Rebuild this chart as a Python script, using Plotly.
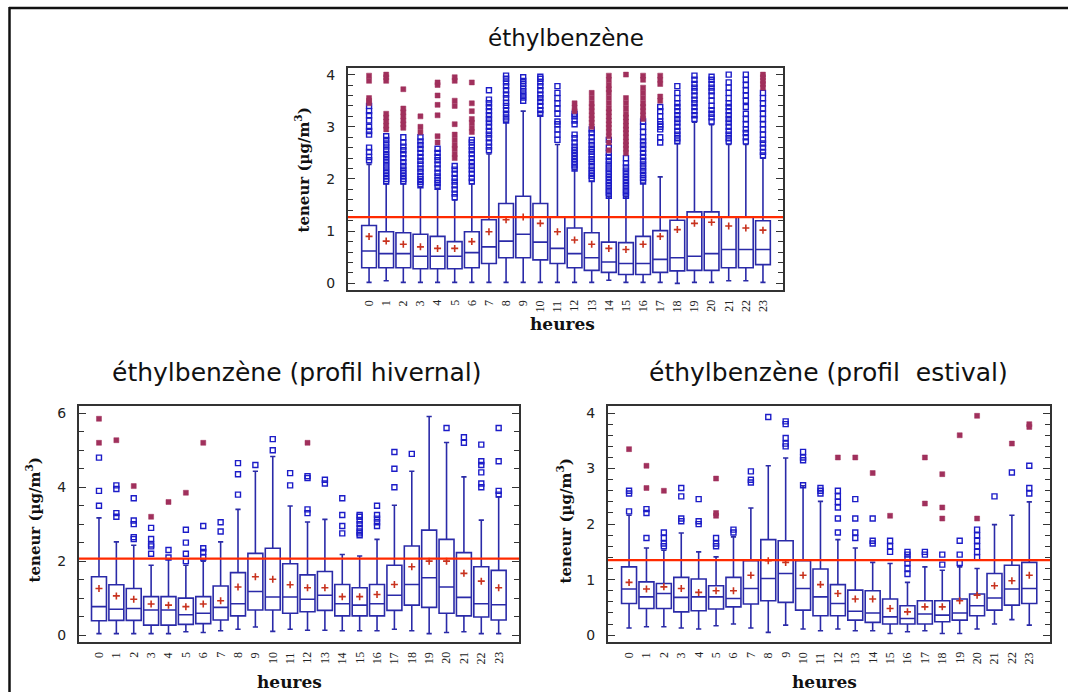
import plotly.graph_objects as go

W, H = 1068, 693

hours = list(range(24))
hour_labels = [str(h) for h in hours]

# ---------------- éthylbenzène, all year ----------------
annual_low = [0.02, 0.05, 0.02, 0.02, 0.02, 0.02, 0.02, 0.02, 0.02, 0.02, 0.02, 0.02,
              0.02, 0.02, 0.06, 0.02, 0.02, 0.02, 0.0, 0.02, 0.02, 0.05, 0.05, 0.02]
annual_q1 = [0.30, 0.30, 0.30, 0.28, 0.28, 0.28, 0.30, 0.38, 0.49, 0.49, 0.45, 0.38,
             0.30, 0.25, 0.21, 0.17, 0.17, 0.21, 0.24, 0.25, 0.25, 0.30, 0.30, 0.36]
annual_median = [0.62, 0.57, 0.57, 0.52, 0.52, 0.52, 0.59, 0.70, 0.81, 0.94, 0.79, 0.67,
                 0.57, 0.49, 0.41, 0.38, 0.38, 0.46, 0.49, 0.52, 0.57, 0.65, 0.65, 0.65]
annual_q3 = [1.11, 0.99, 0.97, 0.94, 0.90, 0.80, 0.99, 1.22, 1.53, 1.67, 1.53, 1.27,
             1.06, 0.97, 0.79, 0.78, 0.90, 1.01, 1.21, 1.37, 1.37, 1.27, 1.27, 1.20]
annual_high = [2.28, 1.91, 1.91, 1.85, 1.82, 1.60, 1.91, 2.48, 3.09, 3.30, 3.22, 2.66,
               2.18, 1.96, 1.66, 1.66, 1.92, 2.04, 2.68, 3.09, 3.04, 2.66, 2.66, 2.40]
annual_mean = [0.90, 0.81, 0.75, 0.70, 0.67, 0.67, 0.80, 0.99, 1.22, 1.27, 1.15, 0.99,
               0.83, 0.75, 0.67, 0.65, 0.75, 0.90, 1.03, 1.15, 1.17, 1.10, 1.06, 1.02]
annual_outliers = [
    [2.36, 2.42, 2.52, 2.6, 2.85, 2.92, 3.0, 3.12, 3.22, 3.3, 3.4],
    [1.95, 2.0, 2.06, 2.12, 2.18, 2.24, 2.3, 2.36, 2.42, 2.48, 2.55, 2.62, 2.68, 2.75, 2.82],
    [1.95, 2.0, 2.06, 2.12, 2.18, 2.25, 2.32, 2.4, 2.48, 2.55, 2.62, 2.7, 2.8],
    [1.88, 1.94, 2.0, 2.06, 2.14, 2.2, 2.28, 2.35, 2.42, 2.5, 2.58, 2.65, 2.72, 2.8],
    [1.85, 1.92, 1.98, 2.05, 2.12, 2.2, 2.28, 2.36, 2.42, 2.5, 2.58],
    [1.65, 1.72, 1.8, 1.88, 1.95, 2.02, 2.1, 2.18, 2.25],
    [1.95, 2.02, 2.1, 2.18, 2.25, 2.32, 2.4, 2.48, 2.55, 2.62, 2.7, 2.75],
    [2.55, 2.62, 2.7, 2.78, 2.85, 2.92, 3.0, 3.08, 3.15, 3.22, 3.3, 3.38, 3.45, 3.52, 3.7],
    [3.12, 3.18, 3.25, 3.32, 3.4, 3.46, 3.55, 3.62, 3.7, 3.78, 3.85, 3.92, 3.98],
    [3.5, 3.56, 3.62, 3.68, 3.75, 3.82, 3.88, 3.95],
    [3.25, 3.32, 3.4, 3.48, 3.55, 3.62, 3.7, 3.78, 3.85, 3.92, 3.96],
    [2.75, 2.85, 2.95, 3.05, 3.1, 3.25, 3.35, 3.45, 3.55, 3.65, 3.78],
    [2.2, 2.26, 2.32, 2.38, 2.44, 2.5, 2.56, 2.62, 2.7, 2.78, 2.85, 3.05, 3.12, 3.2, 3.25],
    [2.0, 2.06, 2.12, 2.18, 2.25, 2.32, 2.38, 2.45, 2.52, 2.58, 2.65, 2.72, 2.8, 2.88, 2.95],
    [1.68, 1.74, 1.8, 1.86, 1.92, 1.98, 2.04, 2.1, 2.16, 2.22, 2.28, 2.35, 2.42, 2.5, 2.6, 2.75],
    [1.68, 1.74, 1.8, 1.86, 1.92, 1.98, 2.04, 2.1, 2.16, 2.22, 2.3, 2.4],
    [1.95, 2.02, 2.08, 2.15, 2.22, 2.28, 2.35, 2.42, 2.5, 2.58, 2.65, 2.72, 2.8, 2.9, 3.0, 3.1],
    [2.7, 2.8, 2.95, 3.0, 3.05, 3.1, 3.2, 3.3, 3.38],
    [2.72, 2.78, 2.85, 2.92, 3.0, 3.08, 3.15, 3.22, 3.3, 3.38, 3.45, 3.55, 3.65, 3.78],
    [3.15, 3.22, 3.3, 3.38, 3.45, 3.52, 3.6, 3.68, 3.75, 3.82, 3.9, 3.98],
    [3.1, 3.18, 3.25, 3.32, 3.4, 3.5, 3.6, 3.68, 3.75, 3.82, 3.9, 3.96],
    [2.72, 2.78, 2.85, 2.92, 3.0, 3.08, 3.15, 3.22, 3.3, 3.38, 3.45, 3.55, 3.65, 3.75, 3.85, 4.0],
    [2.72, 2.8, 2.88, 2.95, 3.05, 3.15, 3.25, 3.38, 3.5, 3.6, 3.7, 3.8, 3.9, 4.0],
    [2.45, 2.52, 2.6, 2.68, 2.75, 2.85, 2.95, 3.05, 3.15, 3.25, 3.35, 3.45, 3.55, 3.65],
]
annual_extremes = [
    [3.45, 3.5, 3.55, 3.88, 3.98],
    [2.95, 3.02, 3.1, 3.18, 3.25, 3.88, 3.95, 4.0],
    [2.98, 3.05, 3.12, 3.2, 3.28, 3.35, 3.72],
    [2.9, 3.0, 3.2],
    [2.7, 2.82, 3.22, 3.42, 3.6, 3.8, 3.85],
    [2.4, 2.48, 2.58, 2.65, 2.75, 2.85, 3.05, 3.4, 3.5, 3.88, 3.95],
    [2.9, 2.98, 3.08, 3.15, 3.3, 3.45, 3.85],
    [], [], [], [], [],
    [3.3, 3.37, 3.45],
    [3.0, 3.08, 3.15, 3.22, 3.3, 3.38, 3.45, 3.55, 3.65],
    [2.55, 2.7, 2.82, 2.9, 2.98, 3.05, 3.12, 3.2, 3.28, 3.35, 3.45, 3.55, 3.65, 3.72, 3.8, 3.9, 3.98],
    [2.5, 2.58, 2.65, 2.72, 2.8, 2.88, 2.95, 3.02, 3.1, 3.18, 3.25, 3.35, 3.45, 3.55, 4.0],
    [3.15, 3.22, 3.3, 3.38, 3.45, 3.55, 3.65, 3.75, 3.9, 3.98],
    [3.5, 3.58, 3.82, 3.9, 3.98],
    [], [], [], [], [],
    [3.75, 3.82, 3.88, 3.95, 4.0],
]
annual_ref = 1.27

# ---------------- winter profile ----------------
winter_low = [0.04, 0.04, 0.04, 0.04, 0.04, 0.09, 0.07, 0.12, 0.16, 0.22, 0.10, 0.16,
              0.13, 0.13, 0.12, 0.12, 0.12, 0.16, 0.12, 0.04, 0.07, 0.09, 0.04, 0.04]
winter_q1 = [0.39, 0.40, 0.40, 0.27, 0.27, 0.29, 0.31, 0.41, 0.52, 0.68, 0.68, 0.59,
             0.63, 0.67, 0.52, 0.52, 0.52, 0.67, 0.81, 0.75, 0.59, 0.52, 0.49, 0.41]
winter_median = [0.77, 0.70, 0.72, 0.68, 0.68, 0.55, 0.59, 0.75, 0.85, 1.18, 1.03, 1.03,
                 0.97, 1.08, 0.85, 0.81, 0.85, 1.08, 1.37, 1.55, 1.30, 1.02, 0.85, 0.82]
winter_q3 = [1.58, 1.36, 1.26, 1.04, 1.04, 1.00, 1.04, 1.33, 1.69, 2.21, 2.35, 1.93,
             1.63, 1.72, 1.37, 1.28, 1.37, 1.89, 2.41, 2.84, 2.59, 2.23, 1.85, 1.75]
winter_high = [3.17, 2.52, 2.43, 1.89, 2.05, 1.89, 2.00, 2.52, 3.40, 4.43, 4.83, 3.49,
               3.06, 3.13, 2.18, 2.14, 2.59, 3.51, 4.43, 5.91, 5.21, 4.28, 3.11, 3.74]
winter_mean = [1.26, 1.06, 0.97, 0.84, 0.81, 0.77, 0.84, 0.93, 1.30, 1.58, 1.51, 1.36,
               1.28, 1.28, 1.04, 1.04, 1.10, 1.37, 1.85, 2.00, 2.00, 1.67, 1.46, 1.28]
winter_outliers = [
    [3.5, 3.9, 4.8], [3.2, 3.3, 3.95, 4.05], [2.6, 2.65, 3.0, 3.1, 3.7],
    [2.2, 2.4, 2.45, 2.6, 2.9], [2.1, 2.3], [2.0, 2.2, 2.5, 2.85],
    [2.1, 2.25, 2.35, 2.95], [2.8, 3.05], [3.8, 4.35, 4.65], [4.6], [5.0, 5.3],
    [4.05, 4.38], [3.3, 3.4, 4.25, 4.3], [4.1, 4.2], [2.75, 2.95, 3.25, 3.7],
    [2.7, 2.75, 2.8, 2.9, 3.0, 3.1, 3.2, 3.25], [2.95, 3.05, 3.15, 3.25, 3.5],
    [4.0, 4.5, 4.95], [4.9], [], [5.6], [5.2, 5.35],
    [4.0, 4.1, 4.4, 4.6, 4.7, 5.15], [3.8, 3.9, 4.7, 5.6],
]
winter_extremes = [
    [5.2, 5.85], [5.27], [4.03], [3.2], [3.6], [3.85], [5.2], [], [], [], [], [],
    [5.2], [], [], [], [], [], [], [], [], [], [], [],
]
winter_ref = 2.07

# ---------------- summer profile ----------------
summer_low = [0.13, 0.15, 0.15, 0.13, 0.11, 0.17, 0.20, 0.13, 0.05, 0.18, 0.11, 0.08,
              0.11, 0.08, 0.08, 0.03, 0.06, 0.08, 0.03, 0.03, 0.11, 0.20, 0.28, 0.18]
summer_q1 = [0.57, 0.48, 0.48, 0.42, 0.44, 0.47, 0.51, 0.56, 0.62, 0.59, 0.45, 0.35,
             0.35, 0.27, 0.23, 0.20, 0.20, 0.20, 0.24, 0.27, 0.35, 0.45, 0.54, 0.57]
summer_median = [0.83, 0.69, 0.75, 0.68, 0.69, 0.69, 0.66, 0.84, 1.02, 1.11, 0.84, 0.69,
                 0.57, 0.43, 0.40, 0.33, 0.30, 0.38, 0.36, 0.40, 0.53, 0.67, 0.83, 0.84]
summer_q3 = [1.23, 0.96, 0.93, 1.04, 1.01, 0.89, 1.04, 1.34, 1.72, 1.70, 1.34, 1.19,
             0.91, 0.81, 0.80, 0.65, 0.53, 0.62, 0.62, 0.65, 0.74, 1.11, 1.26, 1.31]
summer_high = [2.16, 1.57, 1.53, 1.84, 1.50, 1.41, 1.77, 2.29, 3.05, 3.19, 2.69, 2.41,
               1.72, 1.57, 1.31, 1.29, 0.95, 1.23, 1.17, 1.23, 1.20, 1.99, 2.16, 2.40]
summer_mean = [0.95, 0.83, 0.87, 0.84, 0.77, 0.80, 0.80, 1.08, 1.34, 1.31, 1.08, 0.91,
               0.75, 0.65, 0.65, 0.48, 0.42, 0.51, 0.51, 0.62, 0.72, 0.89, 0.98, 1.08]
summer_outliers = [
    [2.23, 2.55, 2.6], [1.75, 2.2, 2.27], [1.6, 1.65, 1.75, 1.85],
    [2.05, 2.1, 2.5, 2.65], [2.0, 2.05, 2.45], [1.6, 1.65, 1.75], [1.85, 1.9],
    [2.75, 2.8, 2.95], [3.93], [3.4, 3.45, 3.55, 3.8, 3.85], [2.7, 3.15, 3.2, 3.3],
    [2.55, 2.6, 2.65], [1.85, 2.1, 2.3, 2.4, 2.5, 2.6], [1.75, 1.85, 2.1, 2.45],
    [1.65, 1.7, 2.1], [1.5, 1.6, 1.7], [1.1, 1.2, 1.3, 1.38, 1.45, 1.5],
    [1.45, 1.5], [1.27, 1.45], [1.3, 1.45, 1.7],
    [1.4, 1.5, 1.6, 1.7, 1.8, 1.9], [2.5], [2.93], [2.55, 2.65, 3.05],
]
summer_extremes = [
    [3.35], [2.65, 3.05], [2.6], [], [], [2.15, 2.2, 2.82], [], [], [], [], [], [],
    [3.2], [3.2], [2.92], [2.15], [], [2.37, 3.2], [2.1, 2.3, 2.9], [3.6],
    [2.1, 3.95], [], [3.45], [3.75, 3.8],
]
summer_ref = 1.35

BOX_BLUE = "#2a2aa8"
OUT_BLUE = "#1c1cc8"
EXT_RED = "#a0305c"
MEAN_RED = "#c8321e"
REF_RED = "#ff2a00"
FRAME = "#333333"


def px_x(p):
    return p / W


def px_y(p):
    return 1 - p / H


panels = [
    dict(title="éthylbenzène", low=annual_low, q1=annual_q1, med=annual_median,
         q3=annual_q3, high=annual_high, mean=annual_mean, out=annual_outliers,
         ext=annual_extremes, ref=annual_ref,
         dom_x=(348, 783), dom_y=(67, 290), xr=(-1.23, 24.17), yr=(-0.13, 4.13),
         dtick=1, minor=0.2, title_xy=(566, 37), title_size=23,
         ytitle_xy=(302, 170), xtitle_xy=(562, 324)),
    dict(title="éthylbenzène (profil hivernal)", low=winter_low, q1=winter_q1,
         med=winter_median, q3=winter_q3, high=winter_high, mean=winter_mean,
         out=winter_outliers, ext=winter_extremes, ref=winter_ref,
         dom_x=(79, 519), dom_y=(406, 643), xr=(-1.15, 24.17), yr=(-0.19, 6.2),
         dtick=2, minor=0.5, title_xy=(297, 373), title_size=25,
         ytitle_xy=(34, 521), xtitle_xy=(289, 683)),
    dict(title="éthylbenzène (profil  estival)", low=summer_low, q1=summer_q1,
         med=summer_median, q3=summer_q3, high=summer_high, mean=summer_mean,
         out=summer_outliers, ext=summer_extremes, ref=summer_ref,
         dom_x=(608, 1050), dom_y=(406, 643), xr=(-1.21, 24.19), yr=(-0.126, 4.13),
         dtick=1, minor=0.2, title_xy=(828, 373), title_size=25,
         ytitle_xy=(565, 522), xtitle_xy=(824, 683)),
]


def flatten(groups):
    xs, ys = [], []
    for h, vals in zip(hours, groups):
        for v in vals:
            xs.append(h)
            ys.append(v)
    return xs, ys


fig = go.Figure()
annotations = []
shapes = []
axes = {}

for i, p in enumerate(panels):
    sfx = "" if i == 0 else str(i + 1)
    xa, ya = "x" + sfx, "y" + sfx

    fig.add_trace(go.Box(
        x=hours, q1=p["q1"], median=p["med"], q3=p["q3"],
        lowerfence=p["low"], upperfence=p["high"],
        boxpoints=False, width=0.86, whiskerwidth=0.35,
        fillcolor="rgba(255,255,255,0)", line=dict(color=BOX_BLUE, width=1.6),
        xaxis=xa, yaxis=ya, showlegend=False, hoverinfo="skip"))

    ox, oy = flatten(p["out"])
    fig.add_trace(go.Scatter(
        x=ox, y=oy, mode="markers", xaxis=xa, yaxis=ya, showlegend=False,
        marker=dict(symbol="square-open", size=5, color=OUT_BLUE,
                    line=dict(width=1.4, color=OUT_BLUE))))

    ex, ey = flatten(p["ext"])
    fig.add_trace(go.Scatter(
        x=ex, y=ey, mode="markers", xaxis=xa, yaxis=ya, showlegend=False,
        marker=dict(symbol="square", size=5, color=EXT_RED,
                    line=dict(width=0.5, color=EXT_RED))))

    fig.add_trace(go.Scatter(
        x=hours, y=p["mean"], mode="markers", xaxis=xa, yaxis=ya, showlegend=False,
        marker=dict(symbol="cross-thin", size=5, color=MEAN_RED,
                    line=dict(width=1.6, color=MEAN_RED))))

    shapes.append(dict(type="line", xref=xa + " domain", yref=ya,
                       x0=0, x1=1, y0=p["ref"], y1=p["ref"],
                       line=dict(color=REF_RED, width=2.2)))

    dx = [px_x(p["dom_x"][0]), px_x(p["dom_x"][1])]
    dy = [px_y(p["dom_y"][1]), px_y(p["dom_y"][0])]
    axes["xaxis" + sfx] = dict(
        domain=dx, anchor=ya, range=list(p["xr"]),
        tickmode="array", tickvals=hours, showticklabels=False, ticks="",
        showline=True, mirror=True, linecolor=FRAME, linewidth=2,
        showgrid=False, zeroline=False)
    axes["yaxis" + sfx] = dict(
        domain=dy, anchor=xa, range=list(p["yr"]),
        tick0=0, dtick=p["dtick"], ticks="inside", ticklen=7, tickwidth=1.3,
        tickcolor=FRAME, showline=True, mirror="allticks", linecolor=FRAME,
        linewidth=2, showgrid=False, zeroline=False, ticklabelstandoff=8,
        tickfont=dict(family="DejaVu Sans", size=14, color="#222222"),
        minor=dict(dtick=p["minor"], tick0=0, ticks="inside", ticklen=5,
                   tickwidth=1.3, tickcolor=FRAME, showgrid=False))

    # hour labels, written vertically under each box
    label_top = px_y(p["dom_y"][1] + 9)
    for h, lab in zip(hours, hour_labels):
        annotations.append(dict(text=lab, x=h, xref=xa, y=label_top, yref="paper",
                                showarrow=False, textangle=-90,
                                xanchor="center", yanchor="top",
                                borderpad=0,
                                font=dict(family="Liberation Serif", size=12,
                                          color="#222222")))

    tx, ty = p["title_xy"]
    annotations.append(dict(text=p["title"], x=px_x(tx), y=px_y(ty),
                            xref="paper", yref="paper", showarrow=False,
                            xanchor="center", yanchor="middle",
                            font=dict(family="DejaVu Sans", size=p["title_size"],
                                      color="#111111")))
    yx, yy = p["ytitle_xy"]
    annotations.append(dict(text="<b>teneur (µg/m<sup>3</sup>)</b>", x=px_x(yx),
                            y=px_y(yy), xref="paper", yref="paper", showarrow=False,
                            textangle=-90, xanchor="center", yanchor="middle",
                            font=dict(family="DejaVu Serif", size=15, color="#111111")))
    hx, hy = p["xtitle_xy"]
    annotations.append(dict(text="<b>heures</b>", x=px_x(hx), y=px_y(hy),
                            xref="paper", yref="paper", showarrow=False,
                            xanchor="center", yanchor="middle",
                            font=dict(family="DejaVu Serif", size=17, color="#111111")))

# outer frame (top and left edges)
shapes.append(dict(type="line", xref="paper", yref="paper",
                   x0=px_x(9), x1=1.0, y0=px_y(7), y1=px_y(7),
                   line=dict(color="#111111", width=2.5)))
shapes.append(dict(type="line", xref="paper", yref="paper",
                   x0=px_x(9.5), x1=px_x(9.5), y0=px_y(6), y1=0.0,
                   line=dict(color="#111111", width=2.5)))

fig.update_layout(
    width=W, height=H, margin=dict(l=0, r=0, t=0, b=0),
    paper_bgcolor="white", plot_bgcolor="white",
    showlegend=False, annotations=annotations, shapes=shapes,
    **axes,
)

fig.write_html("out.html")
